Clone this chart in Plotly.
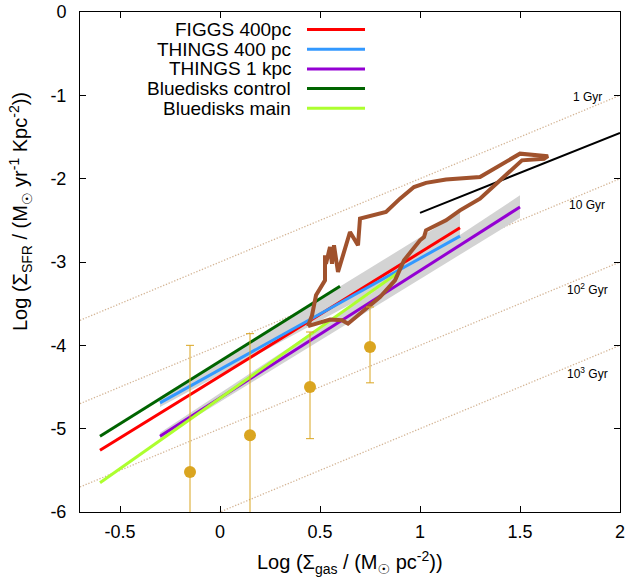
import plotly.graph_objects as go

# ---------------- data ----------------
# Fit lines: [x_start, x_end], [y_start, y_end]
figgs_x = [-0.6, 1.2]
figgs_y = [-5.26, -2.59]
things400_x = [-0.3, 1.2]
things400_y = [-4.69, -2.69]
things1k_x = [-0.3, 1.5]
things1k_y = [-5.09, -2.34]
bd_control_x = [-0.6, 0.6]
bd_control_y = [-5.09, -3.29]
bd_main_x = [-0.6, 0.895]
bd_main_y = [-5.65, -3.12]
black_x = [1.0, 2.0]
black_y = [-2.41, -1.45]

# Uncertainty bands (polygon outlines)
band400_x = [-0.3, 1.2, 1.2, -0.3]
band400_y = [-4.62, -2.41, -2.80, -4.74]
band1k_x = [-0.3, 1.5, 1.5, -0.3]
band1k_y = [-5.05, -2.20, -2.47, -5.12]

# Brown track
track_x = [0.44, 0.55, 0.61, 0.64, 0.80, 0.875, 0.92, 1.00, 1.02, 1.03, 1.13, 1.20, 1.30,
           1.38, 1.45, 1.51, 1.62, 1.64, 1.50, 1.30, 1.13, 1.03, 0.97, 0.90, 0.83, 0.77,
           0.70, 0.69, 0.65, 0.59, 0.57, 0.56, 0.55, 0.53, 0.525, 0.525, 0.50, 0.48, 0.46, 0.44]
track_y = [-3.77, -3.69, -3.70, -3.74, -3.42, -3.22, -2.98, -2.74, -2.70, -2.62, -2.50, -2.38, -2.24,
           -2.06, -1.90, -1.78, -1.76, -1.73, -1.70, -1.98, -2.01, -2.05, -2.10, -2.24, -2.40, -2.44,
           -2.48, -2.80, -2.64, -3.12, -2.80, -3.02, -2.82, -3.02, -2.92, -3.22, -3.32, -3.40, -3.64, -3.77]

# Binned points with error bars
pts_x = [-0.15, 0.15, 0.45, 0.75]
pts_y = [-5.52, -5.08, -4.50, -4.02]
pts_err_up = [1.52, 1.22, 0.66, 0.48]
pts_err_dn = [1.52, 1.22, 0.62, 0.43]

# Constant depletion time lines: log SFR = log gas + offset
dep_offsets = [-3, -4, -5, -6]
dep_labels = ["1 Gyr", "10 Gyr", "10<sup>2</sup> Gyr", "10<sup>3</sup> Gyr"]
dep_label_y = [-1.02, -2.32, -3.32, -4.33]
dep_label_x = 1.835

x_range = [-0.7, 2.0]
y_range = [-6.0, 0.0]
x_ticks = [-0.5, 0, 0.5, 1, 1.5, 2]
x_ticktext = ["-0.5", "0", "0.5", "1", "1.5", "2"]
y_ticks = [0, -1, -2, -3, -4, -5, -6]
y_ticktext = ["0", "-1", "-2", "-3", "-4", "-5", "-6"]

legend_names = ["FIGGS 400pc", "THINGS 400 pc", "THINGS 1 kpc", "Bluedisks control", "Bluedisks main"]
legend_colors = ["#ff0000", "#3399ff", "#9400d3", "#006400", "#adff2f"]

FONT = "Liberation Sans, Arial, DejaVu Sans, sans-serif"
W, H = 627, 580
ML, MR, MT, MB = 80, 7, 12, 68

fig = go.Figure()

# depletion lines
for off in dep_offsets:
    fig.add_trace(go.Scatter(x=x_range, y=[x_range[0] + off, x_range[1] + off], mode="lines",
                             line=dict(color="#d4b596", width=1.3, dash="1.3px,1.7px"),
                             hoverinfo="skip", showlegend=False))

# bands
for bx, by in [(band400_x, band400_y), (band1k_x, band1k_y)]:
    fig.add_trace(go.Scatter(x=bx, y=by, fill="toself", fillcolor="#d3d3d3", mode="lines",
                             line=dict(width=0, color="#d3d3d3"), showlegend=False, hoverinfo="skip"))

# fit lines
series = [(figgs_x, figgs_y), (things400_x, things400_y), (things1k_x, things1k_y),
          (bd_control_x, bd_control_y), (bd_main_x, bd_main_y)]
for (sx, sy), name, c in zip(series, legend_names, legend_colors):
    fig.add_trace(go.Scatter(x=sx, y=sy, mode="lines", name=name,
                             line=dict(color=c, width=3), showlegend=False))

fig.add_trace(go.Scatter(x=black_x, y=black_y, mode="lines",
                         line=dict(color="black", width=2), showlegend=False))

fig.add_trace(go.Scatter(x=track_x, y=track_y, mode="lines",
                         line=dict(color="#a0522d", width=4), showlegend=False))

fig.add_trace(go.Scatter(x=pts_x, y=pts_y, mode="markers",
                         marker=dict(color="#daa520", size=12),
                         error_y=dict(type="data", symmetric=False, array=pts_err_up,
                                      arrayminus=pts_err_dn, color="#daa520", thickness=1, width=4),
                         showlegend=False))

annotations = []
for lab, ly in zip(dep_labels, dep_label_y):
    annotations.append(dict(x=dep_label_x, y=ly, xref="x", yref="y", text=lab, showarrow=False,
                            font=dict(family=FONT, size=12, color="black"), xanchor="center", yanchor="middle"))

# manual gnuplot-style legend (text right, sample on right)
plot_w = W - ML - MR
plot_h = H - MT - MB
def px_to_paper(px, py):
    return (px - ML) / plot_w, (H - MB - py) / plot_h

shapes = []
row0, dy = 29.5, 19.7
for i, (name, c) in enumerate(zip(legend_names, legend_colors)):
    py = row0 + i * dy
    tx, ty = px_to_paper(293, py)
    annotations.append(dict(x=tx, y=ty, xref="paper", yref="paper", text=name, showarrow=False,
                            xanchor="right", yanchor="middle",
                            font=dict(family=FONT, size=19, color="black")))
    x0, y0 = px_to_paper(307, py)
    x1, _ = px_to_paper(365, py)
    shapes.append(dict(type="line", xref="paper", yref="paper", x0=x0, x1=x1, y0=y0, y1=y0,
                       line=dict(color=c, width=3)))

# y axis title
annotations.append(dict(x=0, y=px_to_paper(0, 212)[1], xref="paper", yref="paper", xshift=-60,
                        text="Log (Σ<sub>SFR</sub> / (M<sub>☉</sub> yr<sup>-1</sup> Kpc<sup>-2</sup>))",
                        textangle=-90, showarrow=False, xanchor="center", yanchor="middle",
                        font=dict(family=FONT, size=20, color="black")))
# x axis title
annotations.append(dict(x=0.5, y=0, xref="paper", yref="paper", yshift=-50,
                        text="Log (Σ<sub>gas</sub> / (M<sub>☉</sub> pc<sup>-2</sup>))",
                        showarrow=False, xanchor="center", yanchor="middle",
                        font=dict(family=FONT, size=20, color="black")))

axis_common = dict(showgrid=False, zeroline=False, showline=True, linecolor="black", linewidth=1,
                   mirror="ticks", ticks="inside", ticklen=6, tickcolor="black", tickwidth=1,
                   automargin=False,
                   tickfont=dict(family=FONT, size=18, color="black"))

fig.update_layout(
    width=W, height=H,
    margin=dict(l=ML, r=MR, t=MT, b=MB, autoexpand=False),
    plot_bgcolor="white", paper_bgcolor="white",
    xaxis=dict(range=x_range, tickvals=x_ticks, ticktext=x_ticktext, ticklabelstandoff=3, **axis_common),
    yaxis=dict(range=y_range, tickvals=y_ticks, ticktext=y_ticktext, ticklabelstandoff=9, **axis_common),
    annotations=annotations, shapes=shapes, showlegend=False,
)

fig.write_html("out.html", config={"displayModeBar": False},
               post_script="document.body.style.margin='0';document.body.style.padding='0';")
